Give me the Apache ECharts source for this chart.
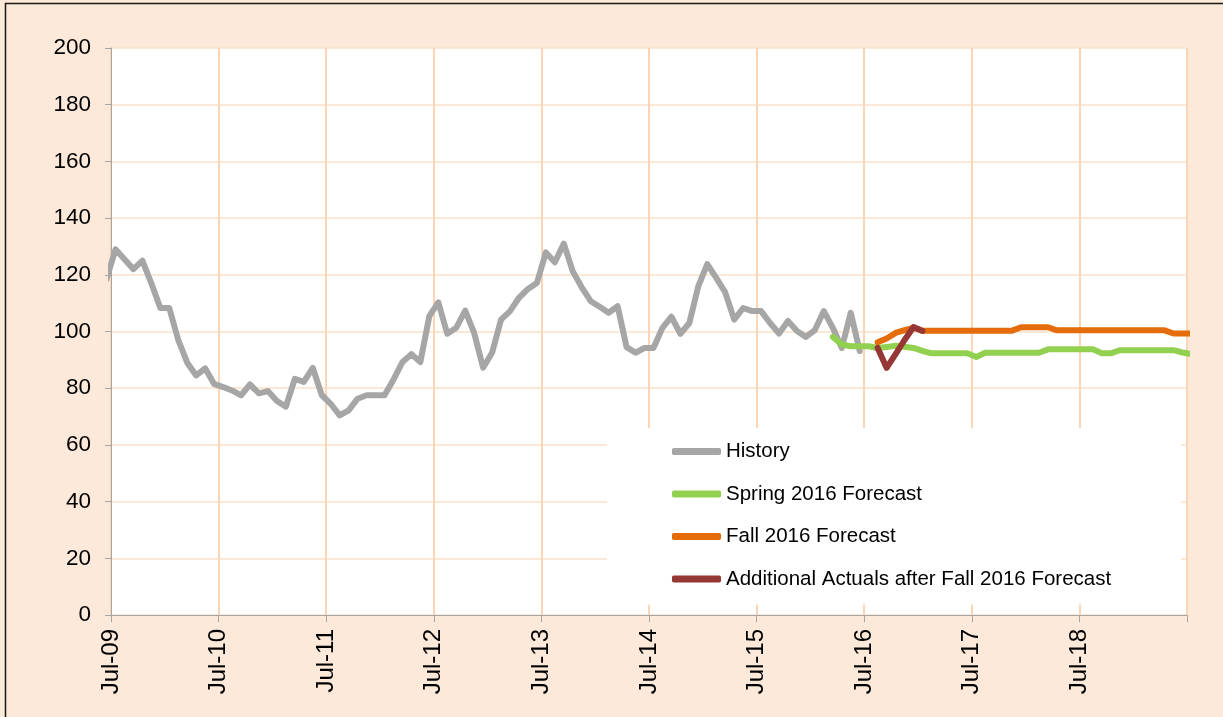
<!DOCTYPE html>
<html>
<head>
<meta charset="utf-8">
<script src="https://cdn.jsdelivr.net/npm/echarts@6/dist/echarts.min.js"></script>
<style>
  html, body { margin: 0; padding: 0; background: #FDE9D9; }
  #chart { width: 1223px; height: 717px; }
</style>
</head>
<body>
<div id="chart"></div>
<script>
// month 0 = Jul-09, points sit mid-month
const tickLabels = ['Jul-09', 'Jul-10', 'Jul-11', 'Jul-12', 'Jul-13', 'Jul-14', 'Jul-15', 'Jul-16', 'Jul-17', 'Jul-18', '']

// History starts Jun-09 (clipped at the axis)
const historyStart = -1
const history = [
  118.5,
  129, 125.5, 122, 125, 117, 108.3, 108.3, 97, 89, 84.5, 87, 81.5,
  80.4, 79.2, 77.5, 81.3, 78.2, 79, 75.5, 73.5, 83.3, 82.2, 87.2, 77.6,
  74.5, 70.4, 72.2, 76.3, 77.5, 77.5, 77.5, 83, 89.2, 92, 89.2, 105.4,
  110.3, 99.2, 101.3, 107.4, 99.5, 87.2, 92.5, 104.2, 107.2, 111.9, 115, 117.1,
  127.9, 124.4, 131, 121.2, 115.6, 110.7, 108.7, 106.6, 108.9, 94.5, 92.5, 94.2,
  94.2, 101.3, 105.2, 99.2, 103, 116, 123.8, 118.9, 113.8, 104.2, 108.3, 107.2,
  107.2, 103, 99.3, 103.7, 100.2, 98.1, 100.5, 107.2, 101.3, 94.2, 106.6, 93.1
]

// Spring 2016 forecast starts Mar-16
const springStart = 80
const spring = [
  98.1, 95.4, 94.8, 94.8, 94.8, 94.2, 94.5, 95, 94.6, 94.2, 93.2, 92.3,
  92.3, 92.3, 92.3, 92.3, 91, 92.5, 92.5, 92.5, 92.5, 92.5, 92.5, 92.5,
  93.7, 93.7, 93.7, 93.7, 93.7, 93.7, 92.3, 92.3, 93.4, 93.4, 93.4, 93.4,
  93.4, 93.4, 93.4, 92.6, 92
]

// Fall 2016 forecast starts Aug-16
const fallStart = 85
const fall = [
  96.2, 97.5, 99.5, 100.5, 101.3, 100.3, 100.3, 100.3, 100.3, 100.3, 100.3, 100.3,
  100.3, 100.3, 100.3, 100.3, 101.5, 101.5, 101.5, 101.5, 100.4, 100.4, 100.4, 100.4,
  100.4, 100.4, 100.4, 100.4, 100.4, 100.4, 100.4, 100.4, 100.4, 99.3, 99.3, 99.3
]

// Additional actuals after Fall 2016 forecast, Aug-16 to Jan-17
const actualsStart = 85
const actuals = [94.2, 87.2, 92, 97, 101.6, 100.2]

const toPoints = (start, values) => values.map((v, i) => [start + i + 0.5, v])

const chart = echarts.init(document.getElementById('chart'))

const lineSeries = (name, color, data) => ({
  name,
  type: 'line',
  data,
  showSymbol: false,
  clip: true,
  lineStyle: { color, width: 6, cap: 'round', join: 'round' },
  itemStyle: { color }
})

chart.setOption({
  animation: false,
  backgroundColor: '#FDE9D9',
  textStyle: { fontFamily: 'Liberation Sans, Arial, sans-serif', color: '#000' },
  graphic: [{
    type: 'rect',
    shape: { x: 5.5, y: 3.5, width: 1400, height: 900 },
    style: { fill: 'none', stroke: '#1a1a1a', lineWidth: 1.5 },
    z: 100
  }],
  grid: {
    left: 111,
    right: 36,
    top: 48,
    bottom: 102,
    show: true,
    backgroundColor: '#fff',
    borderWidth: 0
  },
  legend: {
    orient: 'vertical',
    left: 607,
    top: 428,
    backgroundColor: '#fff',
    padding: [13, 70, 15, 65],
    itemGap: 21.5,
    itemWidth: 49,
    itemHeight: 7,
    icon: 'roundRect',
    textStyle: { fontSize: 20.5, lineHeight: 20, color: '#000', fontFamily: 'Liberation Sans, Arial, sans-serif' }
  },
  xAxis: {
    type: 'value',
    min: 0,
    max: 120,
    interval: 12,
    axisLine: { lineStyle: { color: '#A6A6A6', width: 1 } },
    axisTick: { show: true, length: 7, lineStyle: { color: '#A6A6A6' } },
    axisLabel: {
      rotate: 90,
      margin: 14,
      fontSize: 24,
      color: '#000',
      formatter: v => tickLabels[Math.round(v / 12)]
    },
    splitLine: { show: true, lineStyle: { color: '#FBD5B5', width: 2 } }
  },
  yAxis: {
    type: 'value',
    min: 0,
    max: 200,
    interval: 20,
    axisLine: { show: true, lineStyle: { color: '#A6A6A6', width: 1 } },
    axisTick: { show: true, length: 6, lineStyle: { color: '#A6A6A6' } },
    axisLabel: { margin: 20, fontSize: 22.5, color: '#000' },
    splitLine: { show: true, lineStyle: { color: '#FBE0C8', width: 1.5 } }
  },
  series: [
    lineSeries('History', '#A6A6A6', toPoints(historyStart, history)),
    lineSeries('Spring 2016 Forecast', '#92D050', toPoints(springStart, spring)),
    lineSeries('Fall 2016 Forecast', '#E46C0A', toPoints(fallStart, fall)),
    lineSeries('Additional Actuals after Fall 2016 Forecast', '#953735', toPoints(actualsStart, actuals))
  ]
})
</script>
</body>
</html>
